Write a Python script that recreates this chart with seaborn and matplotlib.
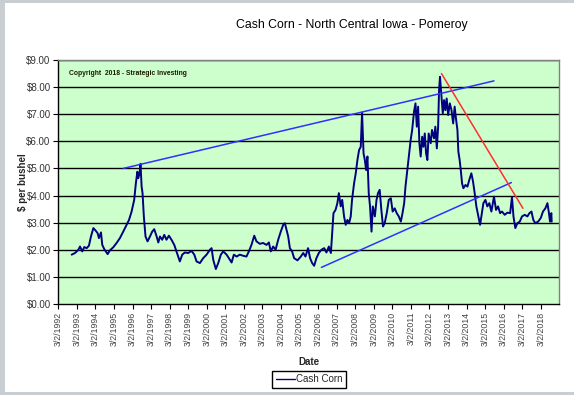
import matplotlib
matplotlib.use('Agg')
import matplotlib.pyplot as plt
import seaborn as sns
import pandas as pd
from matplotlib.patches import Rectangle

# weekly cash corn price (decimal year, $/bushel)
years = [1992.89, 1993.07, 1993.25, 1993.34, 1993.46, 1993.57, 1993.70, 1993.82, 1993.93, 1994.06,
         1994.18, 1994.29, 1994.36, 1994.47, 1994.54, 1994.65, 1994.83, 1994.95, 1995.13, 1995.31,
         1995.49, 1995.67, 1995.85, 1995.98, 1996.12, 1996.26, 1996.35, 1996.43, 1996.48, 1996.55,
         1996.60, 1996.66, 1996.71, 1996.78, 1996.87, 1996.98, 1997.11, 1997.23, 1997.34, 1997.47,
         1997.56, 1997.65, 1997.77, 1997.88, 1998.00, 1998.13, 1998.27, 1998.42, 1998.54, 1998.72,
         1998.85, 1998.99, 1999.17, 1999.35, 1999.50, 1999.62, 1999.80, 1999.98, 2000.16, 2000.34,
         2000.43, 2000.52, 2000.66, 2000.79, 2000.93, 2001.06, 2001.24, 2001.42, 2001.51, 2001.63,
         2001.78, 2001.95, 2002.13, 2002.31, 2002.44, 2002.58, 2002.73, 2002.85, 2003.03, 2003.21,
         2003.39, 2003.52, 2003.62, 2003.75, 2003.88, 2004.02, 2004.16, 2004.29, 2004.38, 2004.47,
         2004.56, 2004.65, 2004.77, 2004.88, 2005.06, 2005.24, 2005.37, 2005.49, 2005.63, 2005.74,
         2005.85, 2005.96, 2006.08, 2006.21, 2006.35, 2006.50, 2006.62, 2006.75, 2006.86, 2006.93,
         2007.00, 2007.11, 2007.21, 2007.29, 2007.39, 2007.47, 2007.57, 2007.66, 2007.75, 2007.84,
         2007.93, 2008.00, 2008.11, 2008.20, 2008.29, 2008.38, 2008.47, 2008.54, 2008.62, 2008.69,
         2008.76, 2008.83, 2008.90, 2008.97, 2009.05, 2009.12, 2009.23, 2009.32, 2009.40, 2009.49,
         2009.58, 2009.67, 2009.76, 2009.87, 2009.98, 2010.09, 2010.19, 2010.30, 2010.41, 2010.52,
         2010.63, 2010.72, 2010.81, 2010.88, 2010.98, 2011.06, 2011.16, 2011.24, 2011.34, 2011.42,
         2011.49, 2011.56, 2011.63, 2011.70, 2011.78, 2011.85, 2011.92, 2011.99, 2012.06, 2012.13,
         2012.24, 2012.31, 2012.42, 2012.49, 2012.57, 2012.64, 2012.69, 2012.74, 2012.82, 2012.89,
         2012.96, 2013.03, 2013.10, 2013.18, 2013.27, 2013.36, 2013.45, 2013.53, 2013.61, 2013.68,
         2013.73, 2013.80, 2013.86, 2013.93, 2014.00, 2014.11, 2014.22, 2014.32, 2014.43, 2014.52,
         2014.61, 2014.70, 2014.79, 2014.90, 2014.97, 2015.08, 2015.19, 2015.29, 2015.40, 2015.51,
         2015.65, 2015.76, 2015.87, 2015.98, 2016.08, 2016.23, 2016.37, 2016.52, 2016.62, 2016.70,
         2016.80, 2016.91, 2017.04, 2017.16, 2017.31, 2017.45, 2017.56, 2017.67, 2017.77, 2017.88,
         2018.03, 2018.17, 2018.29, 2018.42, 2018.53, 2018.60, 2018.67, 2018.74, 2018.76]
prices = [1.82, 1.88, 2.00, 2.12, 1.94, 2.10, 2.06, 2.15, 2.49, 2.80,
          2.71, 2.61, 2.43, 2.64, 2.18, 2.02, 1.84, 1.98, 2.09, 2.25,
          2.43, 2.67, 2.92, 3.10, 3.41, 3.84, 4.45, 4.88, 4.64, 4.82,
          5.17, 4.33, 4.09, 3.23, 2.49, 2.31, 2.49, 2.67, 2.76, 2.49,
          2.27, 2.49, 2.37, 2.55, 2.37, 2.52, 2.37, 2.18, 1.94, 1.57,
          1.82, 1.90, 1.88, 1.96, 1.82, 1.57, 1.51, 1.69, 1.82, 2.00,
          2.06, 1.63, 1.29, 1.51, 1.82, 1.94, 1.82, 1.63, 1.53, 1.82,
          1.75, 1.82, 1.78, 1.75, 1.94, 2.18, 2.52, 2.31, 2.22, 2.25,
          2.18, 2.27, 1.94, 2.12, 2.00, 2.37, 2.67, 2.92, 2.98, 2.74,
          2.49, 2.06, 1.94, 1.69, 1.61, 1.75, 1.88, 1.75, 2.06, 1.69,
          1.51, 1.41, 1.69, 1.88, 2.00, 2.06, 1.90, 2.12, 1.88, 2.61,
          3.35, 3.47, 3.72, 4.09, 3.60, 3.84, 3.23, 2.92, 3.10, 2.98,
          3.23, 3.84, 4.45, 4.82, 5.31, 5.68, 5.80, 7.06, 5.56, 5.31,
          4.94, 5.44, 4.09, 3.60, 2.67, 3.60, 3.23, 3.84, 4.09, 4.21,
          3.47, 2.86, 2.98, 3.35, 3.84, 3.90, 3.41, 3.53, 3.35, 3.23,
          3.04, 3.35, 3.72, 4.33, 4.94, 5.44, 6.05, 6.42, 7.09, 7.40,
          6.54, 7.28, 5.93, 5.44, 6.17, 5.80, 6.29, 5.56, 5.31, 6.29,
          5.93, 6.42, 6.11, 6.54, 5.74, 6.54, 7.89, 8.38, 7.64, 7.03,
          7.52, 7.15, 7.58, 6.97, 7.40, 7.15, 6.66, 7.28, 6.79, 6.42,
          5.62, 5.31, 4.94, 4.45, 4.27, 4.39, 4.33, 4.58, 4.82, 4.52,
          4.09, 3.60, 3.29, 2.92, 3.23, 3.72, 3.84, 3.60, 3.72, 3.41,
          3.96, 3.47, 3.60, 3.35, 3.41, 3.29, 3.37, 3.35, 3.94, 3.23,
          2.80, 2.98, 3.04, 3.23, 3.29, 3.23, 3.35, 3.41, 3.10, 2.98,
          3.04, 3.17, 3.41, 3.53, 3.72, 3.41, 3.04, 3.35, 3.04]

# hand drawn trend lines (start / end)
upper_x = [1995.67, 2015.65]
upper_y = [5.00, 8.23]
lower_x = [2006.35, 2016.59]
lower_y = [1.35, 4.48]
red_x = [2012.82, 2017.21]
red_y = [8.50, 3.53]

tick_years = list(range(1992, 2019))
tick_labels = [f"3/2/{y}" for y in tick_years]
y_ticks = list(range(0, 10))

df = pd.DataFrame({'year': years, 'price': prices})

sns.set_style("white")
plt.rcParams['font.family'] = ['Liberation Sans', 'DejaVu Sans']

fig = plt.figure(figsize=(5.74, 3.95), dpi=100)
fig.patch.set_facecolor('#c9ced3')
# white chart area inside the grey window frame
fig.patches.append(Rectangle((5 / 574, 3 / 395), 1, 389 / 395, transform=fig.transFigure,
                             facecolor='white', edgecolor='none', zorder=-10))

ax = fig.add_axes([58.3 / 574, 1 - 304 / 395, 501 / 574, 244 / 395])
ax.set_facecolor('#ccffcc')

for v in y_ticks[1:]:
    ax.axhline(v, color='black', lw=1.0, zorder=1)

sns.lineplot(data=df, x='year', y='price', ax=ax, color='#000080', lw=1.4,
             estimator=None, sort=False, label='Cash Corn', zorder=3)
ax.plot(upper_x, upper_y, color='#3030ff', lw=1.1, zorder=4)
ax.plot(lower_x, lower_y, color='#3030ff', lw=1.1, zorder=4)
ax.plot(red_x, red_y, color='#ff3030', lw=1.1, zorder=4)

ax.set_xlim(1992.17, 2019.17)
ax.set_ylim(0, 9)
ax.set_xticks([y + 0.17 for y in tick_years])
ax.set_xticklabels(tick_labels, rotation=90, fontsize=6.3, color='#444444')
ax.set_yticks(y_ticks)
ax.set_yticklabels([f"${v:.2f}" for v in y_ticks], fontsize=7, color='#333333')
ax.tick_params(axis='both', direction='out', length=3.5, width=0.8, color='black', pad=2,
               bottom=True, left=True)

for s in ['top', 'right']:
    ax.spines[s].set_color('#808080')
for s in ['left', 'bottom']:
    ax.spines[s].set_color('black')
for s in ax.spines.values():
    s.set_linewidth(1.0)

ax.set_xlabel('Date', fontsize=7, fontweight='bold', labelpad=8)
ax.set_ylabel('$ per bushel', fontsize=7, fontweight='bold', labelpad=-1)

ax.text(0.022, 0.945, 'Copyright  2018 - Strategic Investing', transform=ax.transAxes,
        fontsize=4.9, fontweight='bold', color='#1a1a00', va='center')

fig.text(352 / 574, 1 - 25 / 395, 'Cash Corn - North Central Iowa - Pomeroy',
         fontsize=8.8, ha='center', va='center', color='black')

ax.legend(loc='center', bbox_to_anchor=(309 / 574, 1 - 379.5 / 395), bbox_transform=fig.transFigure,
          fontsize=7, frameon=True, fancybox=False, edgecolor='black', framealpha=1,
          handlelength=2.0, borderpad=0.35, handletextpad=0.1)
leg = ax.get_legend()
leg.get_frame().set_linewidth(1.0)
for ln in leg.get_lines():
    ln.set_linewidth(1.0)

fig.savefig('out.png', dpi=100, facecolor=fig.get_facecolor())
